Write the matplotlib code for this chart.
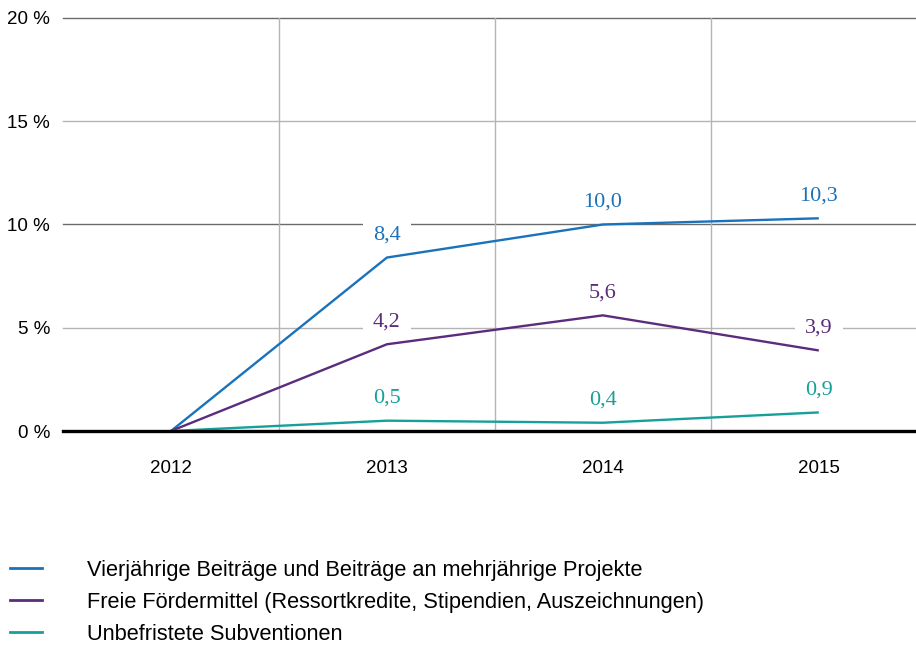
import matplotlib
matplotlib.use("Agg")
import matplotlib.pyplot as plt
from matplotlib.lines import Line2D

years = ["2012", "2013", "2014", "2015"]
series_names = [
    "Vierjährige Beiträge und Beiträge an mehrjährige Projekte",
    "Freie Fördermittel (Ressortkredite, Stipendien, Auszeichnungen)",
    "Unbefristete Subventionen",
]
vierjaehrige = [0.0, 8.4, 10.0, 10.3]
freie = [0.0, 4.2, 5.6, 3.9]
unbefristet = [0.0, 0.5, 0.4, 0.9]
label_mask = [False, True, True, True]
colors = ["#1a72bb", "#5b2b7c", "#16a099"]
yticks = [0, 5, 10, 15, 20]
ytick_labels = ["0 %", "5 %", "10 %", "15 %", "20 %"]

W, H = 916, 647
fig = plt.figure(figsize=(W / 100, H / 100), dpi=100)
left, right = 63 / W, 1.0
top, bottom = 1 - 18 / H, 1 - 431 / H
ax = fig.add_axes([left, bottom, right - left, top - bottom])

x = list(range(len(years)))
ax.set_xlim(-0.5, 3.45)
ax.set_ylim(0, 20)

# horizontal gridlines
for yv in yticks[1:]:
    c = "#6b6b6b" if yv % 10 == 0 else "#b4b4b4"
    ax.axhline(yv, color=c, lw=1.0, zorder=1, clip_on=False)
# vertical gridlines between categories
for xv in [0.5, 1.5, 2.5]:
    ax.axvline(xv, color="#b4b4b4", lw=1.0, zorder=1)

all_series = [vierjaehrige, freie, unbefristet]
for vals, col in zip(all_series, colors):
    ax.plot(x, vals, color=col, lw=1.7, zorder=4, solid_capstyle="butt")
    for xi, v, m in zip(x, vals, label_mask):
        if not m:
            continue
        ax.annotate(f"{v:.1f}".replace(".", ","), (xi, v), xytext=(0, 13),
                    textcoords="offset points", ha="center", va="baseline",
                    color=col, fontsize=16, family="Liberation Serif",
                    zorder=3,
                    bbox=dict(boxstyle="square,pad=0.45", fc="white", ec="none"))

ax.axhline(0, color="black", lw=2.4, zorder=5, clip_on=False)

for s in ax.spines.values():
    s.set_visible(False)
ax.set_yticks(yticks)
ax.set_yticklabels(ytick_labels, fontsize=13.5, family="Liberation Sans")
ax.set_xticks(x)
ax.set_xticklabels(years, fontsize=13.5, family="Liberation Sans")
ax.tick_params(axis="y", length=0, pad=9.3)
ax.tick_params(axis="x", length=0, pad=21)
ax.grid(False)

handles = [Line2D([], [], color=c, lw=2) for c in colors]
fig.legend(handles, series_names, loc="upper left",
           bbox_to_anchor=(10 / W, 1 - 560 / H), frameon=False,
           prop={"family": "Liberation Sans", "size": 15.7},
           handlelength=1.47, handletextpad=2.05, labelspacing=0.5,
           borderpad=0, borderaxespad=0)

fig.savefig("out.png", dpi=100)
